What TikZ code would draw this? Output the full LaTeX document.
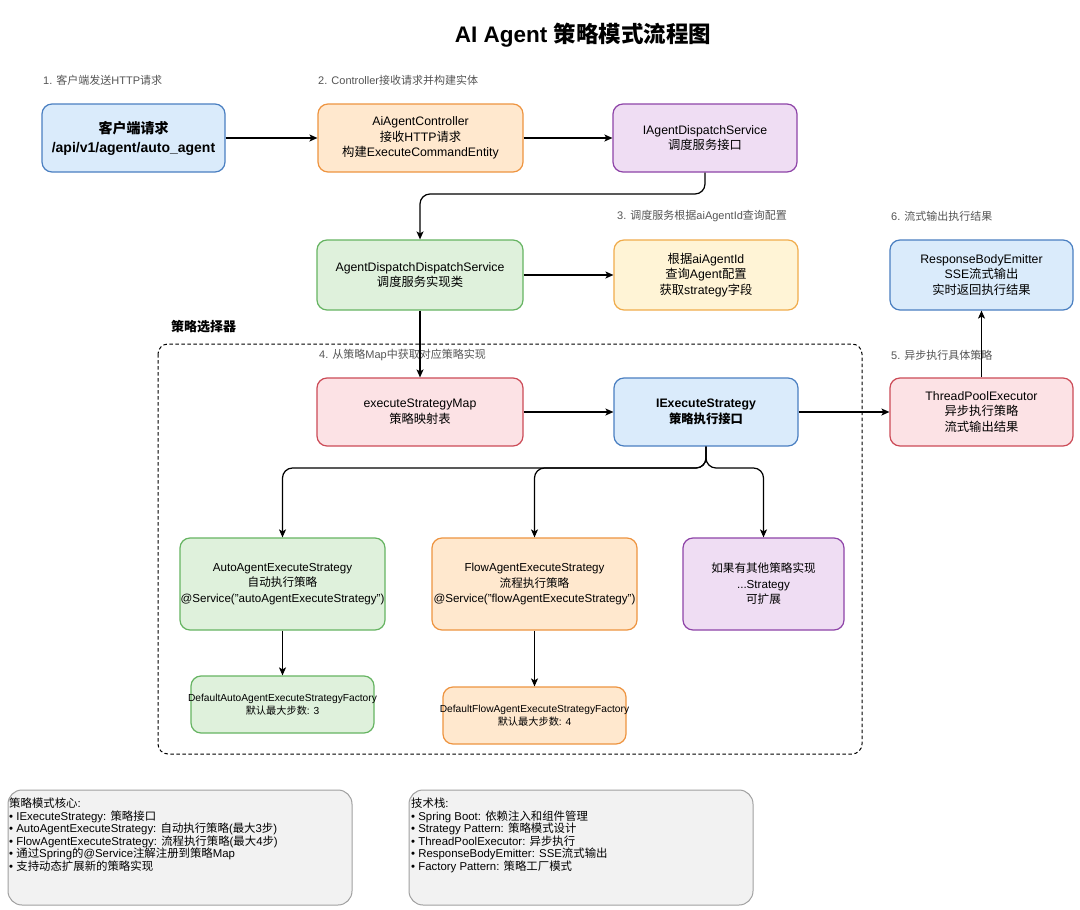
\documentclass[tikz,border=0pt]{standalone}
\usepackage{fontspec}
\usetikzlibrary{arrows.meta}
\setmainfont{Liberation Sans}
\newfontfamily\cjkfont{Noto Sans CJK SC}
\XeTeXinterchartokenstate=1
\newXeTeXintercharclass\CJKcls
\makeatletter
\count@="3000
\loop \XeTeXcharclass\count@=\CJKcls \advance\count@ by 1 \ifnum\count@<"3040 \repeat
\count@="4E00
\loop \XeTeXcharclass\count@=\CJKcls \advance\count@ by 1 \ifnum\count@<"A000 \repeat
\count@="FF00
\loop \XeTeXcharclass\count@=\CJKcls \advance\count@ by 1 \ifnum\count@<"FFF0 \repeat
\makeatother
\XeTeXinterchartoks 0 \CJKcls = {\begingroup\cjkfont}
\XeTeXinterchartoks 4095 \CJKcls = {\begingroup\cjkfont}
\XeTeXinterchartoks \CJKcls 0 = {\endgroup}
\XeTeXinterchartoks \CJKcls 4095 = {\endgroup}

\definecolor{bluefill}{HTML}{DAEBFB}
\definecolor{bluedraw}{HTML}{4A7FC1}
\definecolor{orangefill}{HTML}{FFE8CE}
\definecolor{orangedraw}{HTML}{EE9440}
\definecolor{purplefill}{HTML}{EFDDF3}
\definecolor{purpledraw}{HTML}{8E44A8}
\definecolor{greenfill}{HTML}{DFF1DC}
\definecolor{greendraw}{HTML}{66B462}
\definecolor{yellowfill}{HTML}{FFF4D6}
\definecolor{yellowdraw}{HTML}{F0AC4C}
\definecolor{redfill}{HTML}{FCE2E5}
\definecolor{reddraw}{HTML}{CC4B57}
\definecolor{notefill}{HTML}{F2F2F2}
\definecolor{notedraw}{HTML}{A0A0A0}
\definecolor{labelgray}{HTML}{555555}

\tikzset{
  box/.style={draw, rounded corners=10pt, line width=1.2pt, align=center,
    inner sep=2pt, font=\fontsize{12.3}{15.7}\selectfont},
  bluebox/.style={box, fill=bluefill, draw=bluedraw},
  orangebox/.style={box, fill=orangefill, draw=orangedraw},
  purplebox/.style={box, fill=purplefill, draw=purpledraw},
  greenbox/.style={box, fill=greenfill, draw=greendraw},
  yellowbox/.style={box, fill=yellowfill, draw=yellowdraw},
  redbox/.style={box, fill=redfill, draw=reddraw},
  stratfont/.style={inner xsep=0pt, font=\fontsize{11.6}{15.5}\selectfont},
  factfont/.style={inner xsep=0pt, font=\fontsize{10.2}{13}\selectfont},
  steplabel/.style={anchor=west, inner sep=0pt, text=labelgray, font=\fontsize{11}{13}\selectfont},
  conn/.style={line width=1.2pt, -{Stealth[length=8pt,width=7pt,inset=2pt]}, rounded corners=10pt},
  notebox/.style={draw=notedraw, fill=notefill, line width=1pt, rounded corners=14pt},
  notetext/.style={anchor=north west, inner sep=0pt, align=left, font=\fontsize{11.4}{12.5}\selectfont},
}

\begin{document}
\begin{tikzpicture}[x=1pt,y=-1pt]
\useasboundingbox (0,0) rectangle (1080,910);
\fill[white] (0,0) rectangle (1080,910);

\node[font=\bfseries\fontsize{22.5}{26}\selectfont, inner sep=0pt] (title) at (583,35) {AI Agent 策略模式流程图};

% step labels
\node[steplabel] (l1) at (43,80) {1. 客户端发送HTTP请求};
\node[steplabel] (l2) at (318,80) {2. Controller接收请求并构建实体};
\node[steplabel] (l3) at (617,216) {3. 调度服务根据aiAgentId查询配置};
\node[steplabel] (l6) at (891,216) {6. 流式输出执行结果};
\node[steplabel] (l4) at (319,355) {4. 从策略Map中获取对应策略实现};
\node[steplabel] (l5) at (891,355) {5. 异步执行具体策略};

% group
\draw[dashed, dash pattern=on 3.5pt off 2.5pt, line width=1pt, rounded corners=10pt] (158,344) rectangle (862,754);
\node[anchor=west, inner sep=0pt, font=\bfseries\fontsize{13}{15}\selectfont] (grp) at (171,327) {策略选择器};

% row 1
\node[bluebox, minimum width=183pt, minimum height=68pt, font=\bfseries\fontsize{14}{19}\selectfont] (client) at (133.5,138) {客户端请求\\/api/v1/agent/auto\_agent};
\node[orangebox, minimum width=205pt, minimum height=68pt] (ctrl) at (420.5,138) {AiAgentController\\接收HTTP请求\\构建ExecuteCommandEntity};
\node[purplebox, minimum width=184pt, minimum height=68pt] (iagent) at (705,138) {IAgentDispatchService\\调度服务接口};

% row 2
\node[greenbox, minimum width=206pt, minimum height=70pt] (adds) at (420,275) {AgentDispatchDispatchService\\调度服务实现类};
\node[yellowbox, minimum width=184pt, minimum height=70pt] (query) at (706,275) {根据aiAgentId\\查询Agent配置\\获取strategy字段};
\node[bluebox, minimum width=183pt, minimum height=70pt] (emit) at (981.5,275) {ResponseBodyEmitter\\SSE流式输出\\实时返回执行结果};

% row 3
\node[redbox, minimum width=206pt, minimum height=68pt] (map) at (420,412) {executeStrategyMap\\策略映射表};
\node[bluebox, minimum width=184pt, minimum height=68pt, font=\bfseries\fontsize{12.3}{15.7}\selectfont] (iexec) at (706,412) {IExecuteStrategy\\策略执行接口};
\node[redbox, minimum width=183pt, minimum height=68pt] (pool) at (981.5,412) {ThreadPoolExecutor\\异步执行策略\\流式输出结果};

% row 4
\node[greenbox, stratfont, minimum width=205pt, minimum height=92pt] (auto) at (282.5,584) {AutoAgentExecuteStrategy\\自动执行策略\\\makebox[0pt]{@Service("autoAgentExecuteStrategy")}};
\node[orangebox, stratfont, minimum width=205pt, minimum height=92pt] (flow) at (534.5,584) {FlowAgentExecuteStrategy\\流程执行策略\\\makebox[0pt]{@Service("flowAgentExecuteStrategy")}};
\node[purplebox, stratfont, minimum width=161pt, minimum height=92pt] (other) at (763.5,584) {如果有其他策略实现\\...Strategy\\可扩展};

% row 5
\node[greenbox, factfont, minimum width=183pt, minimum height=57pt] (dauto) at (282.5,704.5) {\makebox[0pt]{DefaultAutoAgentExecuteStrategyFactory}\\默认最大步数: 3};
\node[orangebox, factfont, minimum width=183pt, minimum height=57pt] (dflow) at (534.5,715.5) {\makebox[0pt]{DefaultFlowAgentExecuteStrategyFactory}\\默认最大步数: 4};

% connectors
\draw[conn] (client) -- (ctrl);
\draw[conn] (ctrl) -- (iagent);
\draw[conn] (iagent.south) -- (705,194) -- (420,194) -- (adds.north);
\draw[conn] (adds) -- (query);
\draw[conn] (adds) -- (map);
\draw[conn] (map) -- (iexec);
\draw[conn] (iexec) -- (pool);
\draw[conn] (pool) -- (emit);
\draw[conn] (iexec.south) -- (706,468) -- (282.5,468) -- (auto.north);
\draw[conn] (iexec.south) -- (706,468) -- (534.5,468) -- (flow.north);
\draw[conn] (iexec.south) -- (706,468) -- (763.5,468) -- (other.north);
\draw[conn] (auto) -- (dauto);
\draw[conn] (flow) -- (dflow);

% notes
\draw[notebox] (8,790) rectangle (352,905);
\node[notetext] (n1) at (9,798) {策略模式核心:\\• IExecuteStrategy: 策略接口\\• AutoAgentExecuteStrategy: 自动执行策略(最大3步)\\• FlowAgentExecuteStrategy: 流程执行策略(最大4步)\\• 通过Spring的@Service注解注册到策略Map\\• 支持动态扩展新的策略实现};
\draw[notebox] (409,790) rectangle (753,905);
\node[notetext] (n2) at (411,798) {技术栈:\\• Spring Boot: 依赖注入和组件管理\\• Strategy Pattern: 策略模式设计\\• ThreadPoolExecutor: 异步执行\\• ResponseBodyEmitter: SSE流式输出\\• Factory Pattern: 策略工厂模式};
\end{tikzpicture}
\end{document}
